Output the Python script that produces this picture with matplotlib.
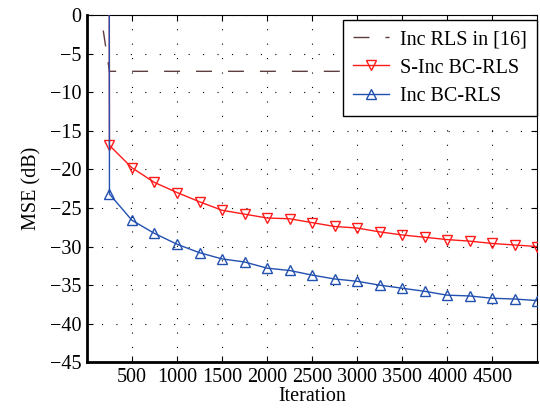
import matplotlib
matplotlib.use("Agg")
import matplotlib.pyplot as plt
import numpy as np

# ---- data ----
iters = [1, 250, 500, 750, 1000, 1250, 1500, 1750, 2000, 2250, 2500,
         2750, 3000, 3250, 3500, 3750, 4000, 4250, 4500, 4750, 5000]
s_inc_bc_rls = [3000, -16.9, -19.8, -21.7, -23.0, -24.2, -25.3, -25.8, -26.3, -26.4, -26.9,
                -27.4, -27.6, -28.1, -28.5, -28.8, -29.1, -29.3, -29.6, -29.8, -30.0]
inc_bc_rls = [3000, -23.2, -26.6, -28.3, -29.7, -30.8, -31.6, -32.0, -32.8, -33.1, -33.7,
              -34.2, -34.5, -35.0, -35.4, -35.8, -36.3, -36.4, -36.7, -36.8, -37.0]
inc_rls_16 = [11.8, -7.3, -7.3, -7.3, -7.3, -7.3, -7.3, -7.3, -7.3, -7.3, -7.3,
              -7.3, -7.3, -7.3, -7.3, -7.3, -7.3, -7.3, -7.3, -7.3, -7.3]

xticks = [500, 1000, 1500, 2000, 2500, 3000, 3500, 4000, 4500]
yticks = [0, -5, -10, -15, -20, -25, -30, -35, -40, -45]

plt.rcParams['font.family'] = ['Liberation Serif', 'DejaVu Serif']
fs = 14.5

fig = plt.figure(figsize=(5.40, 4.16), dpi=100)
ax = fig.add_axes([0.161, 0.129, 0.834, 0.835])

ax.plot(iters, inc_rls_16, color='#5e3c3c', lw=1.0, dashes=(11.5, 11.5),
        label='Inc RLS in [16]', zorder=3)
ax.plot(iters, s_inc_bc_rls, color='#ff1a1a', lw=1.0, marker='v', ms=7,
        mfc='none', mec='#ff1a1a', mew=1.0, markevery=list(range(1, len(iters))),
        label='S-Inc BC-RLS', zorder=4)
ax.plot(iters, inc_bc_rls, color='#2250b0', lw=1.0, marker='^', ms=7,
        mfc='none', mec='#2250b0', mew=1.0, markevery=list(range(1, len(iters))),
        label='Inc BC-RLS', zorder=5)

ax.set_xlim(0, 5000)
ax.set_ylim(-45, 0)
ax.set_xticks(xticks)
ax.set_yticks(yticks)
ax.set_xticklabels([str(v) for v in xticks], fontsize=fs)
ax.set_yticklabels([('\u2212' + str(-v)) if v < 0 else str(v) for v in yticks], fontsize=fs)
ax.tick_params(direction='in', top=True, right=True, length=4, width=0.8, pad=4)

ax.grid(True, color='black', lw=0.8, linestyle=(0, (1, 12)))

for side in ['left', 'bottom']:
    ax.spines[side].set_linewidth(2.0)
for side in ['top', 'right']:
    ax.spines[side].set_linewidth(0.8)

ax.set_xlabel('Iteration', fontsize=fs, labelpad=0)
ax.set_ylabel('MSE (dB)', fontsize=fs, labelpad=6)

leg = ax.legend(loc='upper right', bbox_to_anchor=(1.0, 0.985), fontsize=fs,
                frameon=True, fancybox=False, edgecolor='black', framealpha=1,
                borderaxespad=0, borderpad=0.5, labelspacing=0.45,
                handlelength=1.8, handletextpad=0.55)
leg.get_frame().set_linewidth(1.0)

fig.savefig('out.png', dpi=100)
